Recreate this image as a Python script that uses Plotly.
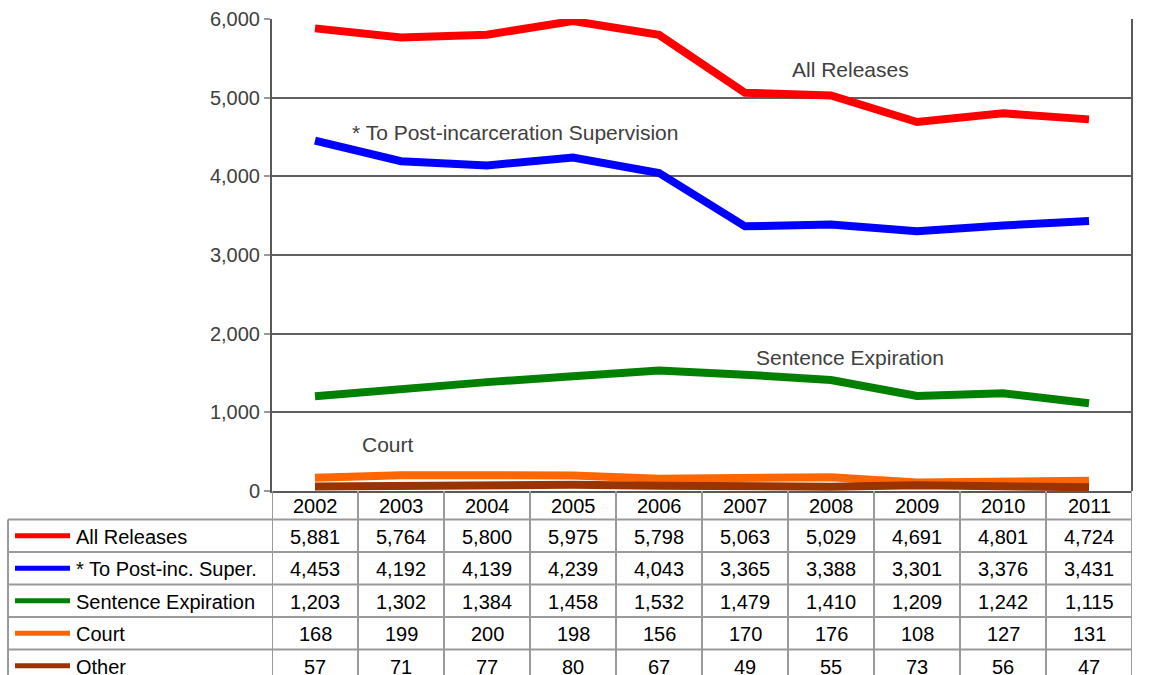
import plotly.graph_objects as go

years = ["2002", "2003", "2004", "2005", "2006", "2007", "2008", "2009", "2010", "2011"]
all_releases = [5881, 5764, 5800, 5975, 5798, 5063, 5029, 4691, 4801, 4724]
post_inc = [4453, 4192, 4139, 4239, 4043, 3365, 3388, 3301, 3376, 3431]
sentence_exp = [1203, 1302, 1384, 1458, 1532, 1479, 1410, 1209, 1242, 1115]
court = [168, 199, 200, 198, 156, 170, 176, 108, 127, 131]
other = [57, 71, 77, 80, 67, 49, 55, 73, 56, 47]

series_names = ["All Releases", "* To Post-inc. Super.", "Sentence Expiration", "Court", "Other"]
series_values = [all_releases, post_inc, sentence_exp, court, other]
series_colors = ["#FF0000", "#0000FF", "#008000", "#FF6600", "#993300"]

W, H = 1165, 675
L, R, T, B = 272, 33, 19, 184
PW, PH = W - L - R, H - T - B
FONT = "Liberation Sans, Arial, sans-serif"


def py(p):  # pixel y -> paper y
    return (T + PH - p) / PH


def pxp(p):  # pixel x -> paper x
    return (p - L) / PW


fig = go.Figure()
for name, vals, col in zip(series_names, series_values, series_colors):
    fig.add_trace(go.Scatter(x=years, y=vals, mode="lines", name=name,
                             line=dict(color=col, width=8), showlegend=False))

shapes = []
annotations = []
TABLE_LINE = "#9a9a9a"
AXIS_LINE = "#595959"

header_top = T + PH
row_lines = [519.5, 552, 584.5, 617, 649.5, 682]
header_center = (header_top + row_lines[0]) / 2

for yl in row_lines:
    shapes.append(dict(type="line", xref="paper", yref="paper",
                       x0=pxp(8), x1=1, y0=py(yl), y1=py(yl),
                       line=dict(color=TABLE_LINE, width=2)))
for k in range(len(years) + 1):
    shapes.append(dict(type="line", xref="x", yref="paper",
                       x0=k - 0.5, x1=k - 0.5, y0=py(header_top), y1=py(690),
                       line=dict(color=TABLE_LINE, width=2)))
shapes.append(dict(type="line", xref="paper", yref="paper",
                   x0=pxp(8), x1=pxp(8), y0=py(row_lines[0]), y1=py(690),
                   line=dict(color=TABLE_LINE, width=2)))
shapes.append(dict(type="line", xref="paper", yref="paper",
                   x0=1, x1=1, y0=0, y1=1,
                   line=dict(color=AXIS_LINE, width=2)))

CELL = dict(family=FONT, size=20, color="#000000")
for i, yr in enumerate(years):
    annotations.append(dict(x=i, xref="x", y=py(header_center + 1), yref="paper",
                            text=yr, showarrow=False, xanchor="center", yanchor="middle",
                            font=CELL))

for r, (name, vals, col) in enumerate(zip(series_names, series_values, series_colors)):
    yc = (row_lines[r] + row_lines[r + 1]) / 2 + 1
    shapes.append(dict(type="line", xref="paper", yref="paper",
                       x0=pxp(15), x1=pxp(70), y0=py(yc - 1), y1=py(yc - 1),
                       line=dict(color=col, width=5)))
    annotations.append(dict(x=pxp(74), xref="paper", y=py(yc), yref="paper",
                            text=name, showarrow=False, xanchor="left", yanchor="middle",
                            font=CELL))
    for i, v in enumerate(vals):
        annotations.append(dict(x=i, xref="x", y=py(yc), yref="paper",
                                text=f"{v:,}", showarrow=False, xanchor="center",
                                yanchor="middle", font=CELL))

LBL = dict(family=FONT, size=21, color="#404040")
annotations += [
    dict(x=6.23, y=5352, xref="x", yref="y", text="All Releases", showarrow=False,
         xanchor="center", yanchor="middle", font=LBL),
    dict(x=0.41, y=4551, xref="x", yref="y", text="* To Post-incarceration Supervision",
         showarrow=False, xanchor="left", yanchor="middle", font=LBL),
    dict(x=6.22, y=1703, xref="x", yref="y", text="Sentence Expiration", showarrow=False,
         xanchor="center", yanchor="middle", font=LBL),
    dict(x=0.85, y=585, xref="x", yref="y", text="Court", showarrow=False,
         xanchor="center", yanchor="middle", font=LBL),
    dict(x=9.63, y=130, xref="x", yref="y", text="Other", showarrow=False,
         xanchor="left", yanchor="middle", font=LBL),
]

fig.update_layout(
    width=W, height=H,
    margin=dict(l=L, r=R, t=T, b=B, pad=0, autoexpand=False),
    paper_bgcolor="white", plot_bgcolor="white",
    shapes=shapes, annotations=annotations,
    xaxis=dict(type="category", range=[-0.5, len(years) - 0.5], showticklabels=False,
               showgrid=False, zeroline=False, showline=True, linecolor=AXIS_LINE,
               linewidth=2, ticks="", automargin=False),
    yaxis=dict(range=[0, 6000], tickvals=[0, 1000, 2000, 3000, 4000, 5000, 6000],
               tickformat=",", showgrid=True, gridcolor="#606060", gridwidth=1.5,
               zeroline=False, showline=True, linecolor=AXIS_LINE, linewidth=2,
               ticks="outside", ticklen=6, tickcolor="#9a9a9a", tickwidth=1.5,
               automargin=False,
               tickfont=dict(family=FONT, size=20, color="#404040")),
)

fig.write_html("out.html", config={"displayModeBar": False},
               post_script="document.body.style.margin='0';")
